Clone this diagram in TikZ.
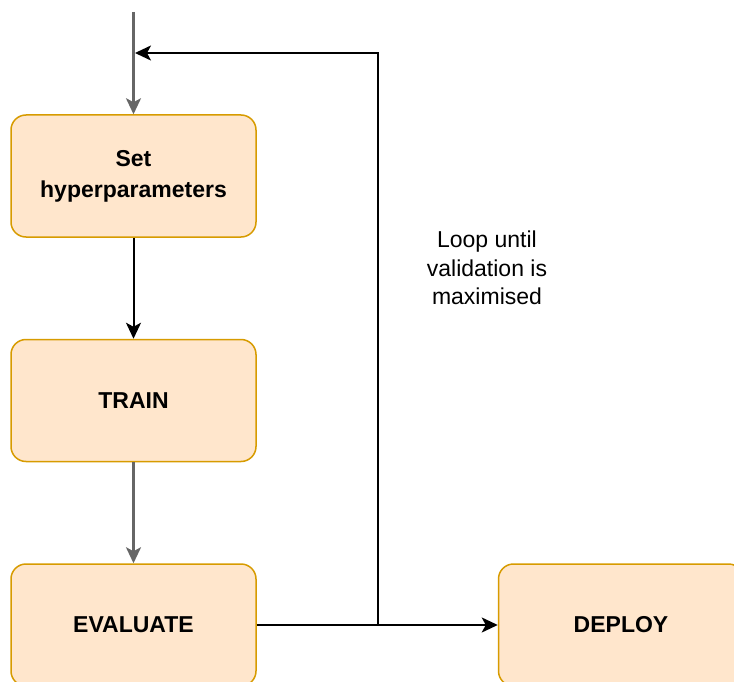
\documentclass[tikz,border=0pt]{standalone}
\usepackage{fontspec}
\setmainfont{Liberation Sans}
\usetikzlibrary{arrows.meta}
\definecolor{boxfill}{HTML}{FFE6CC}
\definecolor{boxline}{HTML}{D79B00}
\tikzset{
  stage/.style={draw=boxline, fill=boxfill, line width=1.5pt, rounded corners=15pt,
    minimum width=245pt, minimum height=122pt, align=center,
    font=\fontsize{23}{31}\selectfont\bfseries},
  flow/.style={line width=2pt, -{Stealth[length=16pt,width=15pt,inset=4pt]}}
}
\begin{document}
\begin{tikzpicture}[x=1pt, y=-1pt]
\useasboundingbox (0,0) rectangle (734,682);

\node[stage] (hyper) at (133.5,176) {Set\\hyperparameters};
\node[stage] (train) at (133.5,400.5) {TRAIN};
\node[stage] (eval) at (133.5,625) {EVALUATE};
\node[stage] (deploy) at (621,625) {DEPLOY};
\node[align=center, font=\fontsize{23}{28.5}\selectfont] (note) at (487,268)
  {Loop until\\validation is\\maximised};

\coordinate (start) at (133.5,12);
\coordinate (split) at (378,625);
\coordinate (corner) at (378,53);
\coordinate (back) at (135,53);

% main flow
\draw[flow, black!60, line width=2.5pt] (start) -- (hyper.north);
\draw[flow] (hyper) -- (train);
\draw[flow, black!60, line width=2.5pt] (train) -- (eval);
\draw[flow] (eval) -- (deploy);

% loop back
\draw[flow] (split) -- (corner) -- (back);

\end{tikzpicture}
\end{document}
